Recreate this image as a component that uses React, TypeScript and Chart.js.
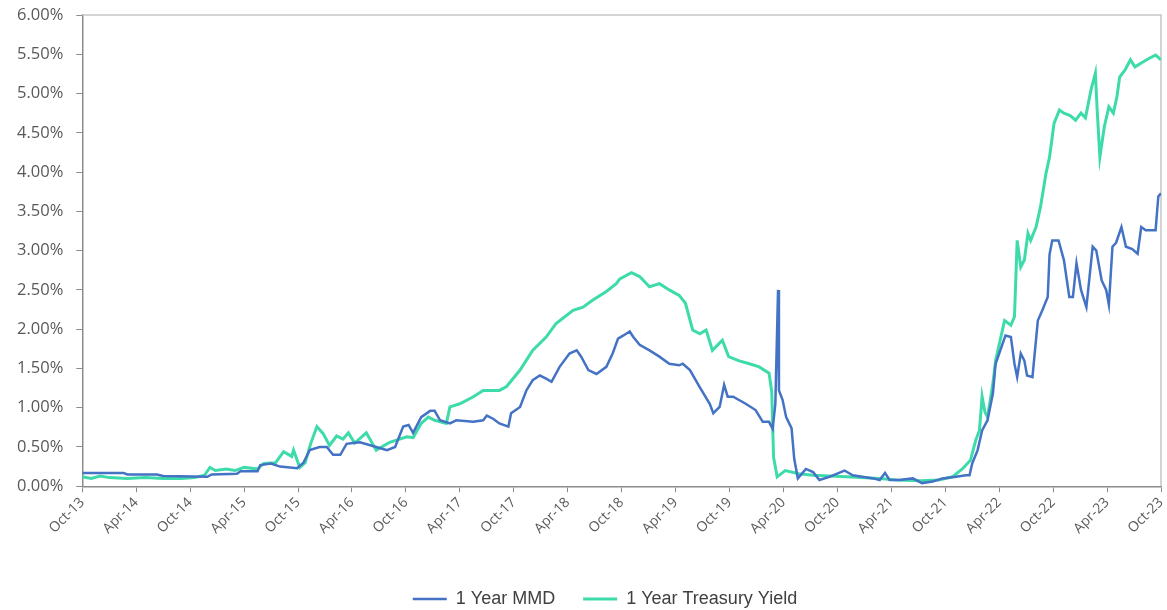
import React, { useEffect, useRef } from "react";
import { Chart, registerables } from "chart.js";

Chart.register(...registerables);

const tickLabels = [
  "Oct-13", "Apr-14", "Oct-14", "Apr-15", "Oct-15", "Apr-16", "Oct-16", "Apr-17",
  "Oct-17", "Apr-18", "Oct-18", "Apr-19", "Oct-19", "Apr-20", "Oct-20", "Apr-21",
  "Oct-21", "Apr-22", "Oct-22", "Apr-23", "Oct-23",
];

// months since Oct-2013
const mmdMonths = [
  0, 2, 4.6, 5, 8.3, 9, 13.9, 14.4, 17.2, 17.6, 19.5, 19.8, 21, 22, 23.9, 24.6, 25.3, 26.4, 27.2, 27.9,
  28.7, 29.4, 30.1, 30.9, 32.7, 33.9, 34.8, 35.7, 36.3, 36.8, 37.7, 38.7, 39.2, 39.8, 40.9, 41.6, 43.5, 44.6, 45, 45.7,
  46.4, 47.4, 47.7, 48.7, 49.4, 50.1, 50.9, 51.6, 52.2, 53.1, 54.2, 55, 55.5, 56.3, 57.2, 58.3, 59, 59.6, 60.2, 60.9,
  61.3, 62, 63.1, 64.2, 65.3, 66.4, 66.8, 67.6, 68.7, 69.8, 70.2, 70.9, 71.4, 71.8, 72.4, 73.8, 74.9, 75.7, 76.4, 76.8,
  77.1, 77.4, 77.5, 77.9, 78.3, 78.9, 79.2, 79.6, 80.5, 81.3, 82, 83.1, 84.8, 85.7, 88, 88.7, 89.3, 89.8, 90.9, 92.4,
  93.4, 94.6, 95.7, 97.2, 98.3, 98.7, 99, 99.6, 100.1, 100.7, 101.3, 101.6, 102, 102.7, 103.3, 103.7, 104, 104.4, 104.8, 105.1,
  105.7, 106.3, 106.8, 107.4, 107.6, 107.9, 108.6, 109.2, 109.8, 110.2, 110.6, 111.1, 111.7, 112.4, 112.8, 113.4, 113.9, 114.2, 114.6, 115,
  115.6, 116.1, 116.8, 117.4, 117.8, 118.3, 119.4, 119.7, 120,
];
const mmdValues = [
  0.17, 0.17, 0.17, 0.15, 0.15, 0.13, 0.12, 0.15, 0.16, 0.19, 0.19, 0.27, 0.29, 0.25, 0.23, 0.30, 0.46, 0.50, 0.50, 0.40,
  0.40, 0.54, 0.55, 0.56, 0.50, 0.46, 0.50, 0.76, 0.78, 0.68, 0.88, 0.96, 0.96, 0.84, 0.80, 0.84, 0.82, 0.84, 0.90, 0.86,
  0.80, 0.76, 0.93, 1.01, 1.22, 1.35, 1.41, 1.37, 1.33, 1.52, 1.69, 1.73, 1.65, 1.48, 1.43, 1.52, 1.69, 1.88, 1.92, 1.97,
  1.90, 1.80, 1.73, 1.65, 1.56, 1.54, 1.56, 1.48, 1.26, 1.05, 0.93, 1.01, 1.29, 1.14, 1.14, 1.05, 0.97, 0.82, 0.82, 0.73,
  1.05, 2.50, 1.22, 1.10, 0.88, 0.74, 0.35, 0.10, 0.22, 0.18, 0.08, 0.12, 0.20, 0.14, 0.10, 0.08, 0.17, 0.08, 0.08, 0.10,
  0.04, 0.06, 0.10, 0.12, 0.14, 0.14, 0.29, 0.46, 0.71, 0.84, 1.18, 1.56, 1.69, 1.92, 1.90, 1.56, 1.39, 1.69, 1.60, 1.41,
  1.39, 2.11, 2.24, 2.41, 2.95, 3.13, 3.13, 2.88, 2.41, 2.41, 2.84, 2.50, 2.28, 3.05, 3.00, 2.62, 2.50, 2.31, 3.05, 3.10,
  3.30, 3.05, 3.02, 2.96, 3.30, 3.26, 3.26, 3.69, 3.73,
];

const tsyMonths = [
  0, 1, 2, 3, 5, 7, 9, 11, 12.5, 13.6, 14.2, 14.8, 16, 17, 18, 19.5, 20.2, 21.5, 22.4, 23.3,
  23.5, 24.2, 24.8, 25.4, 26.1, 26.8, 27.5, 28.3, 29, 29.6, 30.3, 31.6, 32.7, 34.2, 36.1, 36.8, 37.7, 38.5, 39.2, 40.5,
  40.9, 42, 43.5, 44.6, 46.4, 47.2, 48.7, 50.1, 51.6, 52.7, 54.6, 55.7, 56.8, 58.3, 59.4, 59.8, 61.1, 62, 63.1, 64.2,
  65.3, 66.4, 67.1, 67.9, 68.7, 69.4, 70.1, 71.2, 71.9, 73, 74.2, 75.3, 76.4, 76.7, 76.9, 77.3, 78.2, 79.7, 81.3, 85,
  88.7, 90.6, 93.4, 95.3, 96.8, 97.9, 98.8, 99.4, 99.8, 100.1, 100.4, 100.7, 101.3, 101.6, 102.6, 103.3, 103.7, 104, 104.4, 104.8,
  105.2, 105.5, 106.1, 106.6, 107.2, 107.6, 108.1, 108.7, 109.2, 109.9, 110.5, 111.1, 111.6, 112.2, 112.7, 112.9, 113.2, 113.7, 114.2, 114.7,
  115.1, 115.4, 116, 116.6, 117.1, 117.8, 118.7, 119.4, 120,
];
const tsyValues = [
  0.12, 0.10, 0.13, 0.11, 0.10, 0.11, 0.10, 0.10, 0.11, 0.14, 0.24, 0.20, 0.22, 0.20, 0.24, 0.22, 0.29, 0.30, 0.44, 0.38,
  0.46, 0.24, 0.30, 0.54, 0.76, 0.67, 0.52, 0.64, 0.60, 0.68, 0.55, 0.68, 0.46, 0.56, 0.63, 0.62, 0.80, 0.88, 0.84, 0.80,
  1.01, 1.05, 1.14, 1.22, 1.22, 1.27, 1.48, 1.73, 1.90, 2.07, 2.24, 2.28, 2.37, 2.48, 2.58, 2.64, 2.72, 2.67, 2.54, 2.58,
  2.50, 2.43, 2.33, 1.99, 1.94, 1.99, 1.73, 1.86, 1.65, 1.60, 1.56, 1.52, 1.44, 1.20, 0.37, 0.12, 0.20, 0.16, 0.14, 0.12,
  0.10, 0.08, 0.07, 0.08, 0.12, 0.22, 0.33, 0.59, 0.71, 1.14, 0.95, 0.88, 1.31, 1.60, 2.11, 2.05, 2.16, 3.13, 2.79, 2.88,
  3.22, 3.13, 3.30, 3.56, 3.98, 4.19, 4.62, 4.79, 4.75, 4.72, 4.66, 4.75, 4.69, 5.04, 5.26, 4.79, 4.19, 4.58, 4.83, 4.75,
  4.96, 5.21, 5.30, 5.43, 5.34, 5.39, 5.45, 5.49, 5.43,
];

const seriesNames = ["1 Year MMD", "1 Year Treasury Yield"];
const seriesColors = ["#4472C4", "#3EDBAA"];

const framePlugin = {
  id: "frame",
  afterLayout(chart: any) {
    if (chart.legend) {
      chart.legend.left += 45;
    }
  },
  beforeDatasetsDraw(chart: any) {
    const { ctx, chartArea } = chart;
    ctx.save();
    ctx.strokeStyle = "#c6c6c6";
    ctx.lineWidth = 1.5;
    ctx.beginPath();
    ctx.moveTo(chartArea.left, chartArea.top);
    ctx.lineTo(chartArea.right, chartArea.top);
    ctx.lineTo(chartArea.right, chartArea.bottom);
    ctx.stroke();
    ctx.restore();
  },
};

export default function App() {
  const ref = useRef<HTMLCanvasElement>(null);
  useEffect(() => {
    document.body.style.margin = "0";
    const mmd = mmdMonths.map((m, i) => ({ x: m, y: mmdValues[i] }));
    const tsy = tsyMonths.map((m, i) => ({ x: m, y: tsyValues[i] }));
    const chart = new Chart(ref.current!, {
      type: "line",
      data: {
        datasets: [
          {
            label: seriesNames[0],
            data: mmd,
            borderColor: seriesColors[0],
            backgroundColor: seriesColors[0],
            borderWidth: 2.5,
            pointRadius: 0,
            tension: 0,
          },
          {
            label: seriesNames[1],
            data: tsy,
            borderColor: seriesColors[1],
            backgroundColor: seriesColors[1],
            borderWidth: 3,
            pointRadius: 0,
            tension: 0,
          },
        ],
      },
      options: {
        animation: false,
        responsive: false,
        layout: { padding: { top: 15, right: 6, left: 4, bottom: -8 } },
        plugins: {
          tooltip: { enabled: false },
          legend: {
            position: "bottom",
            labels: {
              usePointStyle: true,
              pointStyle: "line",
              pointStyleWidth: 34,
              boxHeight: 3,
              padding: 28,
              color: "#404040",
              font: { family: "'Liberation Sans', Arial, sans-serif", size: 18 },
            },
          },
        },
        scales: {
          x: {
            type: "linear",
            min: 0,
            max: 120,
            afterBuildTicks: (axis: any) => {
              axis.ticks = tickLabels.map((_, i) => ({ value: i * 6 }));
            },
            afterFit: (axis: any) => {
              axis.height += 23;
              axis.paddingRight = 0;
              axis.paddingLeft = 0;
            },
            ticks: {
              autoSkip: false,
              maxRotation: 45,
              minRotation: 45,
              color: "#595959",
              padding: 2,
              font: { family: "'Open Sans', sans-serif", size: 14 },
              callback: (v: any) => tickLabels[Math.round(Number(v) / 6)] ?? "",
            },
            grid: { display: true, drawOnChartArea: false, drawTicks: true, tickLength: 6, color: "#8c8c8c" },
            border: { color: "#8c8c8c", width: 1.5 },
          },
          y: {
            min: 0,
            max: 6,
            afterFit: (axis: any) => {
              axis.paddingTop = 0;
              axis.paddingBottom = 0;
            },
            ticks: {
              stepSize: 0.5,
              color: "#595959",
              padding: 13,
              font: { family: "'Open Sans', sans-serif", size: 16.5 },
              callback: (v: any) => Number(v).toFixed(2) + "%",
            },
            grid: { display: true, drawOnChartArea: false, drawTicks: true, tickLength: 6, color: "#8c8c8c" },
            border: { color: "#8c8c8c", width: 1.5 },
          },
        },
      },
      plugins: [framePlugin],
    });
    return () => chart.destroy();
  }, []);
  return (
    <div style={{ width: 1167, height: 610, background: "#fff" }}>
      <canvas ref={ref} width={1167} height={610} />
    </div>
  );
}
